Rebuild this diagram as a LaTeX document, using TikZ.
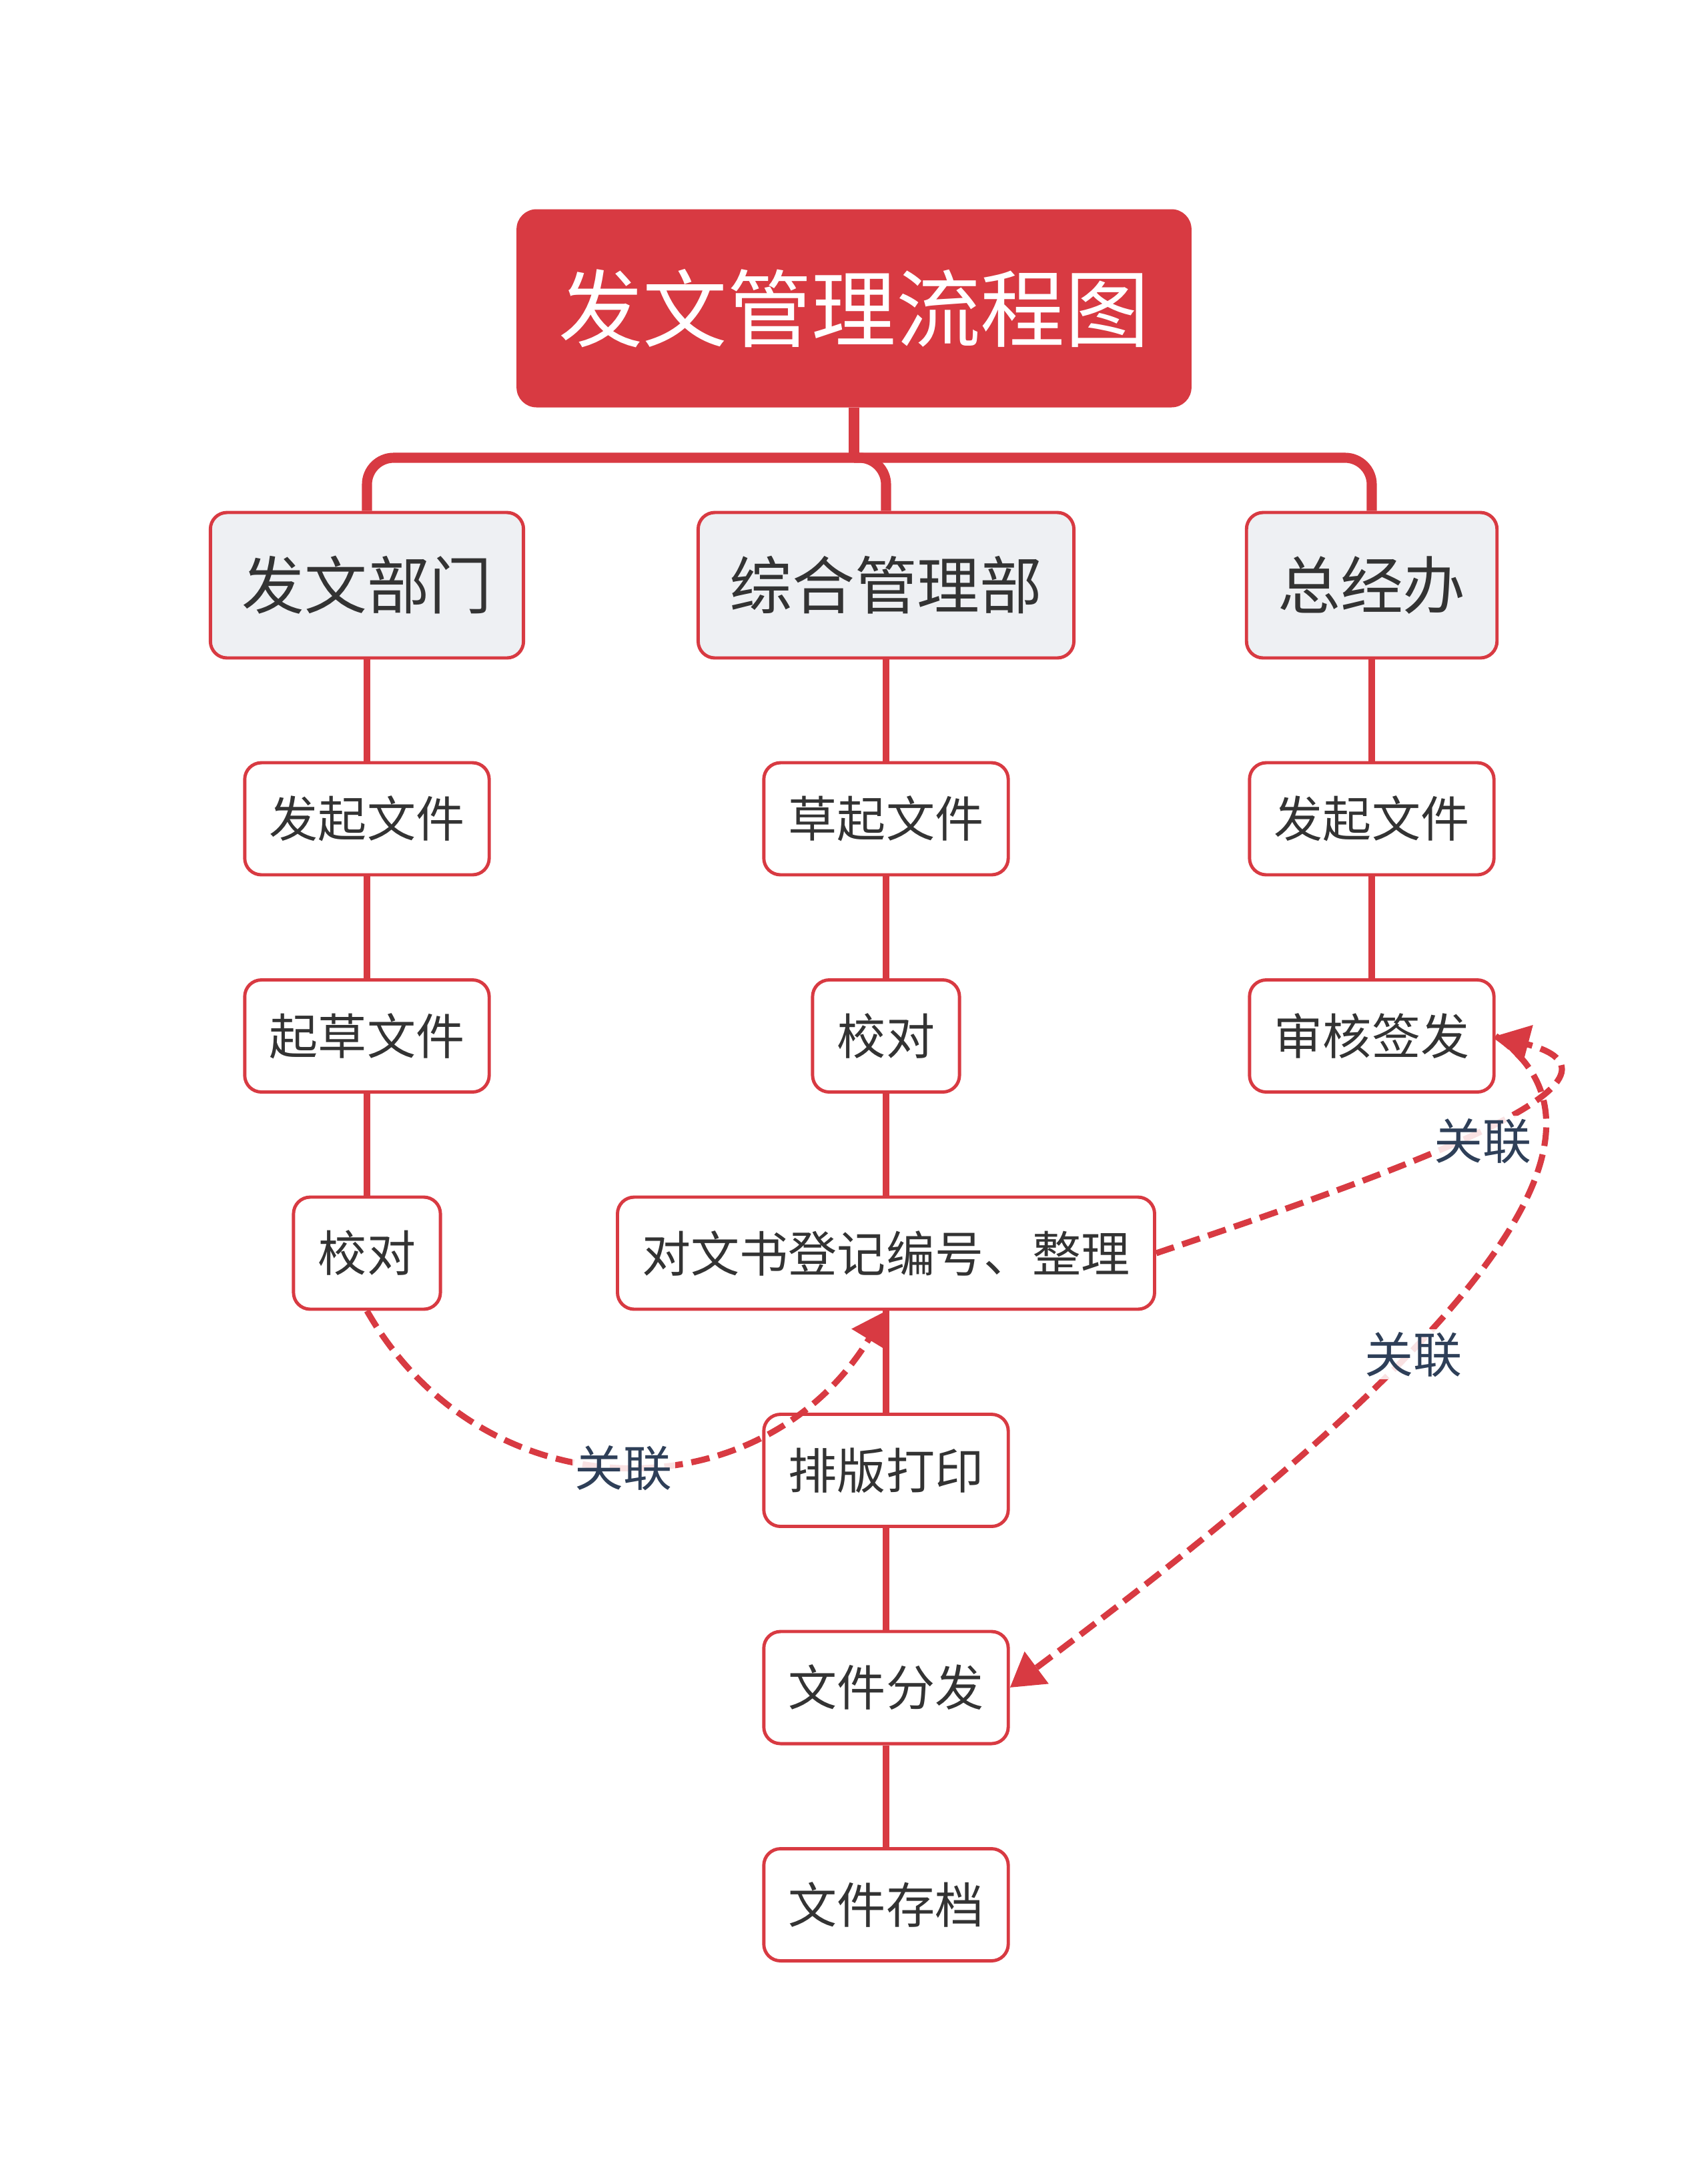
\documentclass[tikz,border=0pt]{standalone}
\usepackage{fontspec}
\newfontfamily\cjkfont{Noto Sans CJK SC}
\usetikzlibrary{arrows.meta}
\definecolor{flowred}{HTML}{D83A42}
\definecolor{branchgray}{HTML}{EEF0F3}
\definecolor{inkgray}{HTML}{333333}
\definecolor{tagblue}{HTML}{2E3F58}

\begin{document}
\begin{tikzpicture}[
  >={Triangle[length=5mm,width=5.8mm]},
  every node/.style={font=\cjkfont,text=inkgray},
  titlebox/.style={rectangle,rounded corners=3mm,fill=flowred,text=white,
    font=\cjkfont\fontsize{36}{40}\selectfont,minimum height=29.7mm,inner xsep=6.3mm},
  branchbox/.style={rectangle,rounded corners=2.5mm,draw=flowred,line width=1.4pt,fill=branchgray,
    font=\cjkfont\fontsize{26.7}{30}\selectfont,minimum height=21.8mm,inner xsep=4.7mm},
  stepbox/.style={rectangle,rounded corners=2.5mm,draw=flowred,line width=1.4pt,fill=white,
    font=\cjkfont\fontsize{20.8}{24}\selectfont,minimum height=16.8mm,inner xsep=3.7mm},
  trunk/.style={flowred,line width=4.3pt},
  link/.style={flowred,line width=2.8pt},
  relation/.style={->,flowred,line width=2.6pt,dash pattern=on 2.8mm off 1.3mm},
  tag/.style={font=\cjkfont\fontsize{20.8}{24}\selectfont,text=tagblue,fill=white,
    fill opacity=.85,text opacity=1,inner sep=1pt}
]
\useasboundingbox (0,0) rectangle (25.6,-32.52);

\node[titlebox] (title) at (12.80,-4.62) {发文管理流程图};
\coordinate (bar) at (12.80,-6.86);

\node[branchbox] (dept) at (5.50,-8.77) {发文部门};
\node[branchbox] (office) at (13.28,-8.77) {综合管理部};
\node[branchbox] (gm) at (20.56,-8.77) {总经办};

\foreach \txt [count=\i] in {发起文件,起草文件,校对}
  \node[stepbox] (dept\i) at (5.50,{-9.015-3.255*\i}) {\txt};
\foreach \txt [count=\i] in {草起文件,校对,对文书登记编号、整理,排版打印,文件分发,文件存档}
  \node[stepbox] (office\i) at (13.28,{-9.015-3.255*\i}) {\txt};
\foreach \txt [count=\i] in {发起文件,审核签发}
  \node[stepbox] (gm\i) at (20.56,{-9.015-3.255*\i}) {\txt};

\draw[trunk] (title.south) -- (bar);
\foreach \b in {dept,office,gm}
  \draw[trunk,rounded corners=4mm] (bar) -| (\b.north);

\foreach \a/\b in {dept/dept1,dept1/dept2,dept2/dept3,
                   office/office1,office1/office2,office2/office3,office3/office4,office4/office5,office5/office6,
                   gm/gm1,gm1/gm2}
  \draw[link] (\a.south) -- (\b.north);

\draw[relation] (dept3.south) .. controls (7.26,-22.72) and (11.41,-22.72) .. (office3.south)
  node[tag,pos=.5,yshift=-.5mm] (tag1) {关联};
\draw[relation] (office3.east) .. controls (20.75,-17.63) and (24.90,-16.18) .. (gm2.east)
  node[tag,pos=.52,yshift=-2mm] (tag2) {关联};
\draw[relation] (gm2.east) .. controls (24.90,-17.22) and (20.95,-20.95) .. (office5.east)
  node[tag,pos=.575,yshift=-1mm] (tag3) {关联};
\end{tikzpicture}
\end{document}
